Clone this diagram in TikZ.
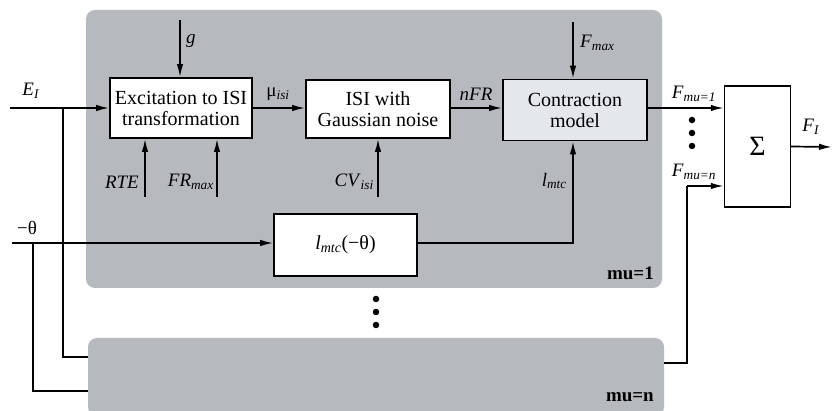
\documentclass[tikz,border=0pt]{standalone}
\usepackage{fontspec}
\setmainfont{Liberation Serif}
\usetikzlibrary{arrows.meta,positioning,calc}

\definecolor{panelgray}{RGB}{182,186,190}
\definecolor{modelgray}{RGB}{228,231,236}

% italic symbol with italic subscript
\newcommand{\isub}[2]{\textit{#1}\textsubscript{\textit{#2}}}

\tikzset{
  panel/.style={fill=panelgray, rounded corners=9pt},
  block/.style={draw, line width=1.7pt, fill=white, align=center, inner sep=0pt,
    font=\fontsize{20}{21}\selectfont},
  sig/.style={line width=1.7pt, -{Latex[length=13pt,width=6.5pt]}},
  wire/.style={line width=1.7pt},
  lbl/.style={font=\fontsize{19}{20}\selectfont, inner sep=1pt},
  tag/.style={font=\fontsize{19}{20}\selectfont\bfseries, anchor=east, inner sep=0pt},
  dot/.style={circle, fill, inner sep=0pt, minimum size=6.5pt}
}

\begin{document}
\begin{tikzpicture}[x=1pt, y=-1pt]
\useasboundingbox (0,0) rectangle (833,411);

% === motor unit panels ===
\fill[panel] (86,10) rectangle (662,288);
\fill[panel] (88,338) rectangle (664,416);
\node[tag] (tag1) at (654,273) {mu=1};
\node[tag] (tagn) at (654,397) {mu=n};

% === blocks of motor unit 1 ===
\node[block, minimum width=142pt, minimum height=60pt] (exc) at (181,108) {Excitation to ISI\\transformation};
\node[block, minimum width=144pt, minimum height=58pt] (isi) at (378,109) {ISI with\\Gaussian noise};
\node[block, fill=modelgray, minimum width=144pt, minimum height=61pt] (con) at (575,110) {Contraction\\model};
\node[block, minimum width=143pt, minimum height=62pt] (lmtc) at (345.5,245) {\isub{l}{mtc}(−θ)};

% summation block
\node[block, line width=1.4pt, minimum width=66pt, minimum height=121pt, font=\fontsize{28}{28}\selectfont] (sum) at (757.5,146.5) {Σ};

% === input coordinates ===
\coordinate (ein) at (10,108);
\coordinate (ebr) at (63,108);
\coordinate (eend) at (88,357);
\coordinate (thin) at (12,243);
\coordinate (tbr) at (33,243);
\coordinate (tend) at (88,391);
\coordinate (gin) at (180,20);
\coordinate (rte) at (145,197);
\coordinate (frmax) at (217,197);
\coordinate (cvin) at (378,197);
\coordinate (fmax) at (573,22);
\coordinate (nout) at (664,363);
\coordinate (nup) at (687,186);
\coordinate (fout) at (832,147);

% === connectors ===
\draw[sig] (ein) -- (ein -| exc.west);
\draw[wire] (ebr) |- (eend);
\draw[sig] (thin) -- (thin -| lmtc.west);
\draw[wire] (tbr) |- (tend);
\draw[sig] (gin) -- (gin |- exc.north);
\draw[sig] (rte) -- (rte |- exc.south);
\draw[sig] (frmax) -- (frmax |- exc.south);
\draw[sig] (cvin) -- (cvin |- isi.south);
\draw[sig] (fmax) -- (fmax |- con.north);
\draw[sig] (exc.east |- ein) -- (isi.west |- ein);
\draw[sig] (isi.east |- ein) -- (con.west |- ein);
\draw[sig] (con.east |- ein) -- (sum.west |- ein);
\draw[sig] (lmtc.east |- thin) -| (fmax |- con.south);
\draw[wire] (nout) -| (nup);
\draw[sig] (nup) -- (nup -| sum.west);
\draw[sig] (sum.east) -- (fout);

% === signal labels ===
\node[lbl] (lE) at (31,91) {\isub{E}{I}};
\node[lbl] (lth) at (27,228) {−θ};
\node[lbl, anchor=west] (lg) at (185,41) {\textit{g}};
\node[lbl, anchor=east] (lrte) at (140,182) {\textit{RTE}};
\node[lbl, anchor=east] (lfr) at (215,182) {\isub{FR}{max}};
\node[lbl, anchor=east] (lcv) at (375,182) {\isub{CV}{isi}};
\node[lbl] (lmu) at (278,94) {μ\textsubscript{\textit{isi}}};
\node[lbl] (lnfr) at (476,94) {\textit{nFR}};
\node[lbl, anchor=west] (lfm) at (579,43) {\isub{F}{max}};
\node[lbl, anchor=east] (llm) at (568,181) {\isub{l}{mtc}};
\node[lbl] (lf1) at (694,94) {\isub{F}{mu=1}};
\node[lbl] (lfn) at (694,172) {\isub{F}{mu=n}};
\node[lbl] (lfi) at (811,127) {\isub{F}{I}};

% === ellipsis dots ===
\foreach \k/\y in {1/120,2/133,3/146}
  \node[dot] (rd\k) at (692,\y) {};
\foreach \k/\y in {1/299,2/312,3/325}
  \node[dot] (md\k) at (376,\y) {};

\end{tikzpicture}
\end{document}
